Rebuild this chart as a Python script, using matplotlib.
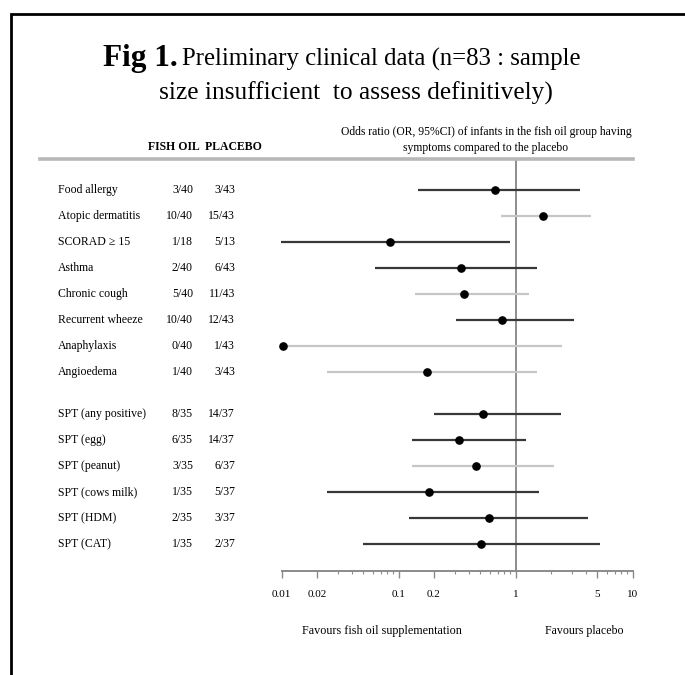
import matplotlib
matplotlib.use("Agg")
import matplotlib.pyplot as plt
from matplotlib.lines import Line2D
from matplotlib.transforms import blended_transform_factory
import numpy as np

plt.rcParams['font.family'] = ['Liberation Serif', 'DejaVu Serif']

# ---------------- data ----------------
outcomes = ["Food allergy", "Atopic dermatitis", "SCORAD \u2265 15", "Asthma",
            "Chronic cough", "Recurrent wheeze", "Anaphylaxis", "Angioedema",
            "SPT (any positive)", "SPT (egg)", "SPT (peanut)", "SPT (cows milk)",
            "SPT (HDM)", "SPT (CAT)"]
fish_oil = ["3/40", "10/40", "1/18", "2/40", "5/40", "10/40", "0/40", "1/40",
            "8/35", "6/35", "3/35", "1/35", "2/35", "1/35"]
placebo = ["3/43", "15/43", "5/13", "6/43", "11/43", "12/43", "1/43", "3/43",
           "14/37", "14/37", "6/37", "5/37", "3/37", "2/37"]
odds_ratio = [0.665, 1.72, 0.084, 0.339, 0.361, 0.768, 0.0102, 0.173,
              0.528, 0.328, 0.455, 0.183, 0.591, 0.502]
ci_low = [0.145, 0.744, 0.0098, 0.0627, 0.138, 0.309, 0.0102, 0.0243,
          0.201, 0.129, 0.129, 0.0243, 0.123, 0.0492]
ci_high = [3.54, 4.38, 0.894, 1.53, 1.31, 3.15, 2.47, 1.53,
           2.42, 1.22, 2.13, 1.59, 4.17, 5.25]
ci_grey = [False, True, False, False, True, False, True, True,
           False, False, True, False, False, False]
group_sizes = [8, 6]
tick_values = [0.01, 0.02, 0.1, 0.2, 1, 5, 10]
tick_labels = ["0.01", "0.02", "0.1", "0.2", "1", "5", "10"]

# ---------------- layout ----------------
W, H = 685, 675
fig = plt.figure(figsize=(W / 100, H / 100), dpi=100)

def fx(px):
    return px / W

def fy(py):
    return 1 - py / H

# row positions (group gap)
gap = 0.62
ypos = []
pos = 0.0
for g, n in enumerate(group_sizes):
    for k in range(n):
        ypos.append(pos)
        pos += 1
    pos += gap

ax_left, ax_right = 281.7, 632.7
ax_top, ax_bot = 159, 571
row0_px, step_px = 190, 26.0
ax = fig.add_axes([fx(ax_left), fy(ax_bot), fx(ax_right - ax_left), (ax_bot - ax_top) / H])
ax.set_xscale('log')
ax.set_xlim(0.01, 10)
ax.set_ylim((ax_bot - row0_px) / step_px, -(row0_px - ax_top) / step_px)

for y, o, lo, hi, grey in zip(ypos, odds_ratio, ci_low, ci_high, ci_grey):
    col = '#c6c6c6' if grey else '#383838'
    ax.plot([lo, hi], [y, y], color=col, lw=1.6, solid_capstyle='butt', clip_on=False, zorder=2)
    ax.plot([o], [y], marker='o', ms=5.2, color='black', clip_on=False, zorder=4)

ax.axvline(1, color='#7a7a7a', lw=1.2, zorder=1)

for s in ['top', 'right', 'left']:
    ax.spines[s].set_visible(False)
ax.spines['bottom'].set_color('#8a8a8a')
ax.spines['bottom'].set_linewidth(1.4)
ax.set_yticks([])
ax.set_xticks(tick_values)
ax.set_xticklabels(tick_labels, fontsize=8)
ax.xaxis.set_minor_locator(matplotlib.ticker.LogLocator(base=10, subs=np.arange(2, 10)))
ax.xaxis.set_minor_formatter(matplotlib.ticker.NullFormatter())
ax.tick_params(axis='x', which='major', length=5, color='#8a8a8a', pad=9, width=1)
ax.tick_params(axis='x', which='minor', length=2.5, color='#8a8a8a', width=0.8)
ax.patch.set_alpha(0)

# left table
tr = blended_transform_factory(fig.transFigure, ax.transData)
for y, name, f, p in zip(ypos, outcomes, fish_oil, placebo):
    ax.text(fx(58), y, name, transform=tr, fontsize=8.5, va='center', ha='left', clip_on=False)
    ax.text(fx(193), y, f, transform=tr, fontsize=8.5, va='center', ha='right', clip_on=False)
    ax.text(fx(235), y, p, transform=tr, fontsize=8.5, va='center', ha='right', clip_on=False)

# header texts
fig.text(fx(148), fy(147), "FISH OIL  PLACEBO", fontsize=8.5, fontweight='bold',
         ha='left', va='center')
fig.text(fx(486), fy(140), "Odds ratio (OR, 95%CI) of infants in the fish oil group having\n"
         "symptoms compared to the placebo", fontsize=8.4, ha='center', va='center',
         linespacing=1.35)

# title
fig.text(fx(103), fy(66), "Fig 1.", fontsize=22.5, fontweight='bold', ha='left', va='baseline')
fig.text(fx(182), fy(66), "Preliminary clinical data (n=83 : sample", fontsize=17.8,
         ha='left', va='baseline')
fig.text(fx(356), fy(100), "size insufficient  to assess definitively)", fontsize=18.3,
         ha='center', va='baseline')

# bottom captions
fig.text(fx(302), fy(631), "Favours fish oil supplementation", fontsize=8.7, ha='left', va='center')
fig.text(fx(545), fy(631), "Favours placebo", fontsize=8.6, ha='left', va='center')

# header grey line
fig.add_artist(Line2D([fx(40), fx(633)], [fy(159), fy(159)], color='#b8b8b8', lw=2.6))

# frame (left and top)
fig.add_artist(Line2D([fx(11), fx(11), fx(W + 5)], [fy(H + 5), fy(14), fy(14)],
                      color='black', lw=2, solid_joinstyle='miter'))

fig.savefig("out.png", dpi=100, facecolor='white')
